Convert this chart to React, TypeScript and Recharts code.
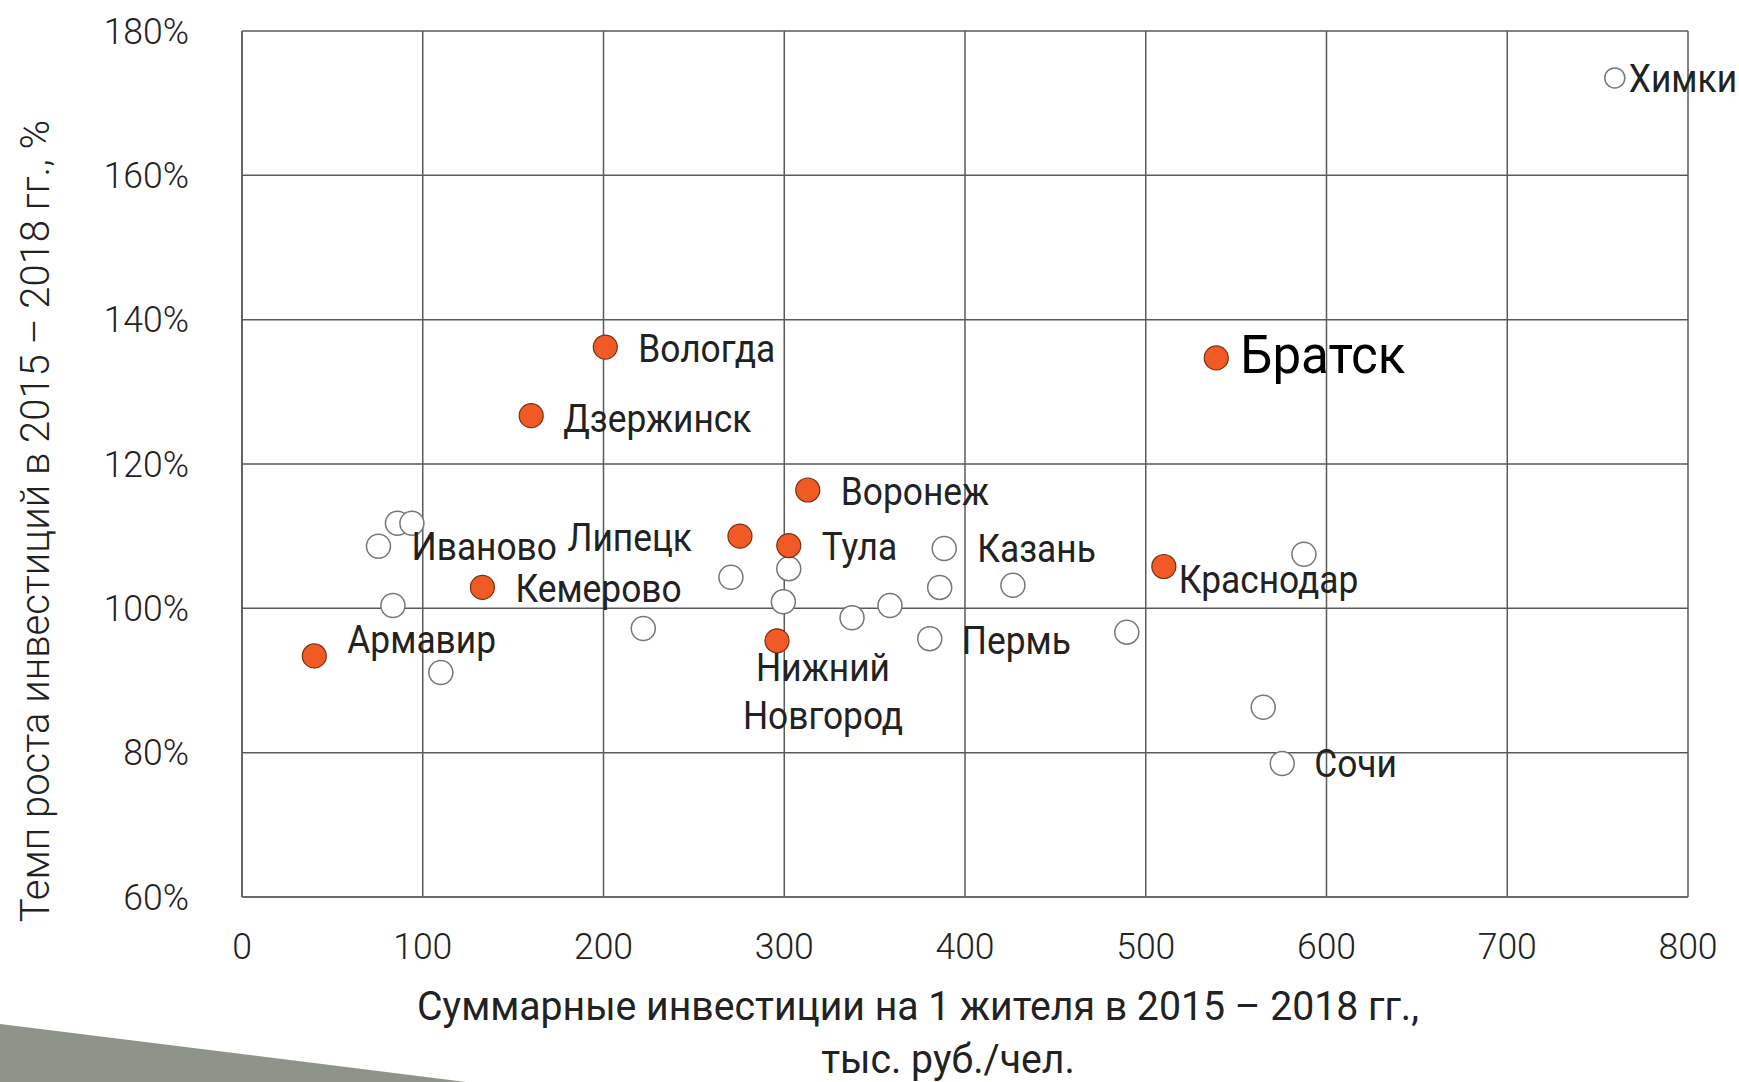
import { ScatterChart, Scatter, XAxis, YAxis, CartesianGrid } from 'recharts'

// highlighted cities (orange)
const highlightNames = ['Армавир', 'Кемерово', 'Дзержинск', 'Вологда', 'Липецк', 'Нижний Новгород', 'Тула', 'Воронеж', 'Краснодар', 'Братск']
const highlightInvest = [40, 133, 160, 201, 275.5, 296, 302.5, 313, 510, 539]
const highlightGrowth = [93.4, 102.9, 126.7, 136.2, 110.0, 95.5, 108.7, 116.4, 105.8, 134.7]

// other cities (hollow)
const otherNames = ['Иваново', '', '', '', '', '', '', '', '', '', '', 'Пермь', '', 'Казань', '', '', '', '', 'Сочи', 'Химки']
const otherInvest = [75.5, 86, 94, 83.5, 110, 222, 270.5, 302.5, 299.5, 337.5, 358.5, 380.5, 386, 388.5, 426.5, 489.5, 587.5, 565, 575.5, 759.5]
const otherGrowth = [108.6, 111.8, 111.8, 100.4, 91.1, 97.2, 104.3, 105.5, 100.9, 98.7, 100.4, 95.8, 102.9, 108.3, 103.2, 96.7, 107.5, 86.3, 78.5, 173.5]

const xTicks = [0, 100, 200, 300, 400, 500, 600, 700, 800]
const yTicks = [60, 80, 100, 120, 140, 160, 180]

const xTitle = ['Суммарные инвестиции на 1 жителя в 2015 – 2018 гг.,', 'тыс. руб./чел.']
const yTitle = 'Темп роста инвестиций в 2015 – 2018 гг., %'

const highlightData = highlightNames.map((name, i) => ({ name, x: highlightInvest[i], y: highlightGrowth[i] }))
const otherData = otherNames.map((name, i) => ({ name, x: otherInvest[i], y: otherGrowth[i] }))
const labelData = [...highlightData, ...otherData].filter(d => d.name)

// label placement, px from the point centre
const labelPos: Record<string, { dx: number; dy: number; anchor?: string; size?: number; color?: string }> = {
  'Армавир': { dx: 33, dy: -16 },
  'Кемерово': { dx: 33, dy: 2 },
  'Дзержинск': { dx: 32, dy: 3 },
  'Вологда': { dx: 33, dy: 2 },
  'Липецк': { dx: -48, dy: 2, anchor: 'end' },
  'Нижний Новгород': { dx: 46, dy: 27, anchor: 'middle' },
  'Тула': { dx: 33, dy: 2 },
  'Воронеж': { dx: 33, dy: 2 },
  'Краснодар': { dx: 15, dy: 14 },
  'Братск': { dx: 24, dy: -3, size: 54, color: '#000' },
  'Иваново': { dx: 33, dy: 1 },
  'Пермь': { dx: 32, dy: 2 },
  'Казань': { dx: 33, dy: 1 },
  'Сочи': { dx: 32, dy: 1 },
  'Химки': { dx: 14, dy: 1 },
}

const FONT = 'Roboto, "Noto Sans", sans-serif'
const TEXT = '#222'

function CondText({ x, y, anchor = 'start', size = 38, weight = 400, sx = 0.93, fill = TEXT, rotate = false, children }: any) {
  return (
    <text
      transform={`translate(${x},${y})${rotate ? ' rotate(-90)' : ''} scale(${sx},1)`}
      textAnchor={anchor}
      dominantBaseline="central"
      fontFamily={FONT}
      fontSize={size}
      fontWeight={weight}
      fill={fill}
    >
      {children}
    </text>
  )
}

const YTick = ({ x, y, payload }: any) => (
  <CondText x={x - 53} y={y} anchor="end" size={37} weight={300} sx={0.96}>{payload.value}%</CondText>
)

const XTick = ({ x, y, payload }: any) => (
  <CondText x={x} y={y + 49} anchor="middle" size={37} weight={300} sx={0.96}>{payload.value}</CondText>
)

const XTitle = ({ viewBox }: any) => {
  const cx = viewBox.x + viewBox.width / 2 - 47
  return (
    <g>
      <CondText x={cx} y={viewBox.y + 109} anchor="middle" size={40} sx={0.98}>{xTitle[0]}</CondText>
      <CondText x={cx + 30} y={viewBox.y + 162} anchor="middle" size={40} sx={0.98}>{xTitle[1]}</CondText>
    </g>
  )
}

const YTitle = ({ viewBox }: any) => (
  <CondText x={viewBox.x + 35} y={viewBox.y + viewBox.height / 2 + 57} anchor="middle" size={40} weight={300} sx={1} rotate>
    {yTitle}
  </CondText>
)

const OrangeDot = ({ cx, cy }: any) => (
  <circle cx={cx} cy={cy} r={12} fill="#f15a24" stroke="#7a3010" strokeWidth={1.2} />
)

const HollowDot = ({ cx, cy, payload }: any) => (
  <circle cx={cx} cy={cy} r={payload.name === 'Химки' ? 10 : 12} fill="#fff" stroke="#777" strokeWidth={1.5} />
)

const CityLabel = ({ cx, cy, payload }: any) => {
  const p = labelPos[payload.name]
  if (!p) return null
  const size = p.size ?? 38
  const anchor = p.anchor ?? 'start'
  if (payload.name === 'Нижний Новгород') {
    const [a, b] = payload.name.split(' ')
    return (
      <g>
        <CondText x={cx + p.dx} y={cy + p.dy} anchor={anchor} size={size}>{a}</CondText>
        <CondText x={cx + p.dx} y={cy + p.dy + 48} anchor={anchor} size={size}>{b}</CondText>
      </g>
    )
  }
  return (
    <CondText x={cx + p.dx} y={cy + p.dy} anchor={anchor} size={size} fill={p.color ?? TEXT} sx={payload.name === 'Братск' ? 0.945 : 0.93}>
      {payload.name}
    </CondText>
  )
}

export default function App() {
  return (
    <div style={{ position: 'absolute', left: 0, top: 0, width: 1739, height: 1082, background: '#fff', overflow: 'hidden' }}>
      <svg width={1739} height={1082} style={{ position: 'absolute', left: 0, top: 0 }}>
        <polygon points="0,1024 466,1082 0,1082" fill="#8e9488" />
      </svg>
      <div style={{ position: 'absolute', left: 0, top: 0 }}>
        <ScatterChart width={1739} height={1082} margin={{ top: 31, right: 51, left: 0, bottom: 0 }}>
          <CartesianGrid stroke="#5a5a5a" strokeWidth={1.5} />
          <XAxis
            type="number"
            dataKey="x"
            domain={[0, 800]}
            ticks={xTicks}
            height={185}
            tickSize={0}
            tickMargin={0}
            tick={<XTick />}
            axisLine={{ stroke: '#6a6a6a', strokeWidth: 2 }}
            label={{ content: XTitle }}
          />
          <YAxis
            type="number"
            dataKey="y"
            domain={[60, 180]}
            ticks={yTicks}
            width={242}
            tickSize={0}
            tickMargin={0}
            tick={<YTick />}
            axisLine={{ stroke: '#5a5a5a', strokeWidth: 1.5 }}
            label={{ content: YTitle }}
          />
          <Scatter data={otherData} shape={HollowDot} isAnimationActive={false} />
          <Scatter data={highlightData} shape={OrangeDot} isAnimationActive={false} />
          <Scatter data={labelData} shape={CityLabel} isAnimationActive={false} />
        </ScatterChart>
      </div>
    </div>
  )
}
